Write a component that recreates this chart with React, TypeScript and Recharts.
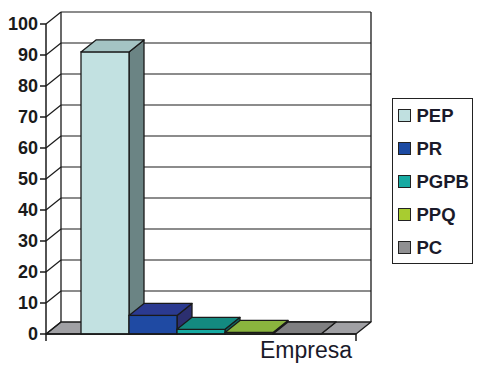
import React from 'react';
import { BarChart, Bar, XAxis, YAxis, CartesianGrid, Legend } from 'recharts';

const categories = ['Empresa'];
const seriesNames = ['PEP', 'PR', 'PGPB', 'PPQ', 'PC'];
const seriesValues = [91, 6, 1.5, 0.5, 0];
const yTicks = [0, 10, 20, 30, 40, 50, 60, 70, 80, 90, 100];

const legendColors = ['#c0e0e0', '#1c4aa2', '#18aaa2', '#a8cc30', '#909092'];
const frontColors = ['#c2e1e1', '#1f4aa3', '#17aaa2', '#a6c93a', '#8f8f91'];
const topColors = ['#a4c4c4', '#2b3a90', '#138a80', '#8ab43e', '#7f7f81'];
const sideColors = ['#6b8484', '#2c2f70', '#0e6a64', '#6e8c2c', '#666668'];

const data = categories.map((c) => {
  const row: Record<string, any> = { name: c };
  seriesNames.forEach((s, i) => {
    row[s] = seriesValues[i];
  });
  return row;
});

const DX = 15;
const DY = -12;
const STROKE = '#1a1a1a';
const FONT = '"Liberation Sans", Arial, sans-serif';

const make3DBar = (i: number) => (props: any) => {
  const { x, y, width, height } = props;
  if (x == null || y == null) return <g />;
  const w = width;
  const h = Math.max(height || 0, 0);
  const side = `${x + w},${y} ${x + w + DX},${y + DY} ${x + w + DX},${y + h + DY} ${x + w},${y + h}`;
  const top = `${x},${y} ${x + w},${y} ${x + w + DX},${y + DY} ${x + DX},${y + DY}`;
  return (
    <g>
      <polygon points={side} fill={sideColors[i]} stroke={STROKE} strokeWidth={1.3} strokeLinejoin="round" />
      <rect x={x} y={y} width={w} height={h} fill={frontColors[i]} stroke={STROKE} strokeWidth={1.3} />
      <polygon points={top} fill={topColors[i]} stroke={STROKE} strokeWidth={1.3} strokeLinejoin="round" />
    </g>
  );
};

const gridLine = (props: any) => {
  const { x1, y1, x2, y, height, index } = props;
  const bottom = y + height;
  const top = y;
  const isBottom = Math.abs(y1 - bottom) < 0.5;
  const els: any[] = [];
  if (index === 0 && height != null) {
    els.push(
      <line key="bwl" x1={x1 + DX} y1={top + DY} x2={x1 + DX} y2={bottom + DY} stroke={STROKE} strokeWidth={1.3} />,
      <line key="bwr" x1={x2 + DX} y1={top + DY} x2={x2 + DX} y2={bottom + DY} stroke={STROKE} strokeWidth={1.3} />,
      <line key="rt" x1={x2} y1={bottom + 7} x2={x2} y2={bottom} stroke={STROKE} strokeWidth={1.5} />,
      <line key="lt" x1={x1} y1={bottom + 7} x2={x1} y2={bottom} stroke={STROKE} strokeWidth={1.5} />
    );
  }
  if (isBottom) {
    els.push(
      <polygon
        key="floor"
        points={`${x1},${y1} ${x2},${y1} ${x2 + DX},${y1 + DY} ${x1 + DX},${y1 + DY}`}
        fill="#a0a0a4"
        stroke={STROKE}
        strokeWidth={1.3}
        strokeLinejoin="round"
      />
    );
  } else {
    els.push(
      <line key="g" x1={x1 + DX} y1={y1 + DY} x2={x2 + DX} y2={y1 + DY} stroke={STROKE} strokeWidth={1.2} />
    );
  }
  els.push(<line key="d" x1={x1} y1={y1} x2={x1 + DX} y2={y1 + DY} stroke={STROKE} strokeWidth={1.2} />);
  return <g key={`grid-${index}`}>{els}</g>;
};

const renderLegend = (props: any) => {
  const payload = [...(props.payload || [])].sort(
    (a: any, b: any) => seriesNames.indexOf(a.value) - seriesNames.indexOf(b.value)
  );
  return (
    <div
      style={{
        border: '1.5px solid #222',
        width: 81,
        height: 166,
        boxSizing: 'border-box',
        background: '#fff',
      }}
    >
      {payload.map((p: any, i: number) => (
        <div key={i} style={{ display: 'flex', alignItems: 'center', height: 33, paddingLeft: 4.5 }}>
          <span
            style={{
              display: 'inline-block',
              width: 13,
              height: 13,
              background: p.color,
              border: '1.5px solid #222',
              boxSizing: 'border-box',
              marginRight: 6,
            }}
          />
          <span style={{ fontFamily: FONT, fontWeight: 700, fontSize: 18.5, color: '#1a1a2a', lineHeight: '18px' }}>
            {p.value}
          </span>
        </div>
      ))}
    </div>
  );
};

const renderXLabel = (props: any) => {
  const vb = props.viewBox || {};
  return (
    <text
      x={vb.x + vb.width - 4}
      y={vb.y + 24}
      textAnchor="end"
      fontFamily={FONT}
      fontSize={23}
      fill="#1a1a2a"
    >
      {categories[0]}
    </text>
  );
};

export default function App() {
  return (
    <div style={{ position: 'absolute', left: 0, top: 0, width: 481, height: 371, background: '#fff' }}>
      <BarChart
        width={481}
        height={371}
        data={data}
        margin={{ top: 24, right: 125, bottom: 7, left: 6 }}
        barGap={0}
        barSize={48}
      >
        <CartesianGrid horizontal={gridLine} vertical={false} />
        <XAxis
          dataKey="name"
          tick={false}
          tickLine={false}
          axisLine={{ stroke: STROKE, strokeWidth: 1.5 }}
          height={30}
          label={renderXLabel}
        />
        <YAxis
          domain={[0, 100]}
          ticks={yTicks}
          width={40}
          interval={0}
          tickSize={6}
          axisLine={{ stroke: STROKE, strokeWidth: 1.5 }}
          tickLine={{ stroke: STROKE, strokeWidth: 1.5 }}
          tick={{ fontFamily: FONT, fontWeight: 700, fontSize: 18, fill: '#1a1a1a' }}
        />
        <Legend
          layout="horizontal"
          align="center"
          verticalAlign="middle"
          wrapperStyle={{ left: 392, top: 98, right: 'auto', bottom: 'auto', width: 81, height: 166 }}
          content={renderLegend}
        />
        {seriesNames.map((s, i) => (
          <Bar key={s} dataKey={s} fill={legendColors[i]} isAnimationActive={false} shape={make3DBar(i)} />
        ))}
      </BarChart>
    </div>
  );
}
